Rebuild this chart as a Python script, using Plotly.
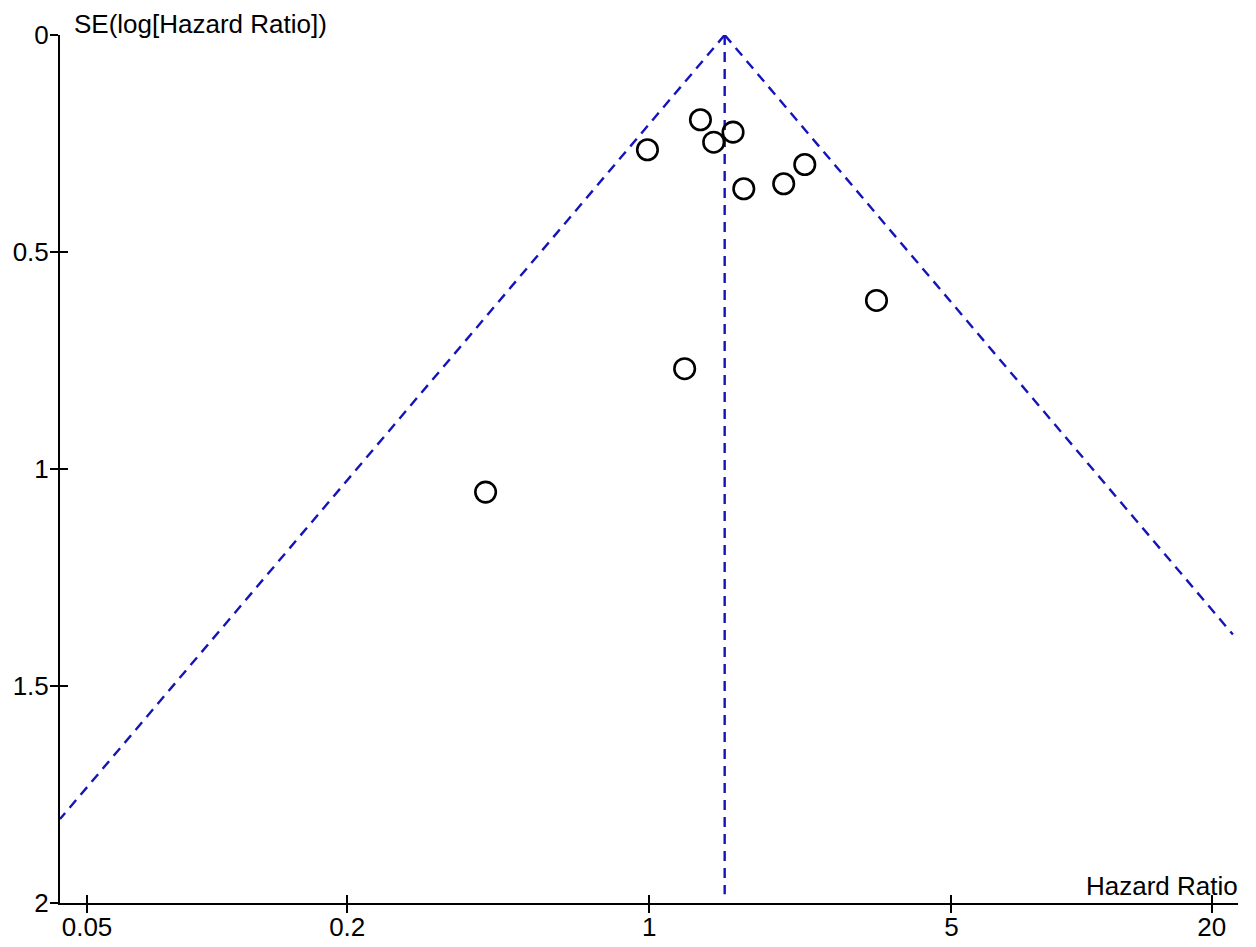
import numpy as np
import plotly.graph_objects as go

# Study estimates
hazard_ratio = [0.990, 1.313, 1.409, 1.562, 1.654, 2.046, 2.289, 3.354, 1.207, 0.418]
se_log_hr = [0.2645, 0.1953, 0.2470, 0.2239, 0.3543, 0.3428, 0.2983, 0.6116, 0.7689, 1.0532]

pooled_hr = 1.494
se_max = 2.0
x_limits = [0.0433, 22.4]   # horizontal extent of the plot
x_tick_vals = [0.05, 0.2, 1, 5, 20]
x_tick_text = ["0.05", "0.2", "1", "5", "20"]
y_tick_vals = [0, 0.5, 1, 1.5, 2]
y_tick_text = ["0", "0.5", "1", "1.5", "2"]

BLUE = "#1414b8"
FONT = "Liberation Sans, Arial, sans-serif"
FS = 26

# funnel (95% pseudo-confidence limits)
ln_c = np.log(pooled_hr)
se_left = (ln_c - np.log(x_limits[0])) / 1.96
se_right = (np.log(x_limits[1]) - ln_c) / 1.96
left_x = [pooled_hr, x_limits[0]]
left_y = [0, se_left]
right_x = [pooled_hr, x_limits[1]]
right_y = [0, se_right]

fig = go.Figure()
dash = "10px,7px"
lw = 2.4
fig.add_trace(go.Scatter(x=left_x, y=left_y, mode="lines",
                         line=dict(color=BLUE, width=lw, dash=dash), hoverinfo="skip"))
fig.add_trace(go.Scatter(x=right_x, y=right_y, mode="lines",
                         line=dict(color=BLUE, width=lw, dash=dash), hoverinfo="skip"))
fig.add_trace(go.Scatter(x=[pooled_hr, pooled_hr], y=[0, 1.98], mode="lines",
                         line=dict(color=BLUE, width=lw, dash=dash), hoverinfo="skip"))
fig.add_trace(go.Scatter(x=hazard_ratio, y=se_log_hr, mode="markers",
                         marker=dict(symbol="circle-open", size=20.5, color="black",
                                     line=dict(width=2.6))))
# invisible trace to anchor inside-tick overlay axes
fig.add_trace(go.Scatter(x=[pooled_hr], y=[0], mode="markers", xaxis="x2", yaxis="y2",
                         marker=dict(opacity=0), hoverinfo="skip"))

xr = [np.log10(x_limits[0]), 1.362]
yr = [se_max, 0]
common_tick = dict(ticklen=8, tickwidth=2, tickcolor="black")
# page body has an 8px margin: figure is shrunk and margins offset to compensate
fig.update_layout(
    template="none",
    width=1248, height=939,
    margin=dict(l=52, r=18, t=27, b=44, autoexpand=False),
    plot_bgcolor="white", paper_bgcolor="white",
    showlegend=False,
    font=dict(family=FONT, size=FS, color="black"),
    xaxis=dict(type="log", range=xr, tickvals=x_tick_vals, ticktext=x_tick_text,
               showgrid=False, zeroline=False, showline=True, linecolor="black",
               linewidth=2, ticks="outside", automargin=False, ticklabelstandoff=-8,
               **common_tick,
               tickfont=dict(family=FONT, size=FS, color="black")),
    yaxis=dict(range=yr, tickvals=y_tick_vals, ticktext=y_tick_text,
               showgrid=False, zeroline=False, showline=True, linecolor="black",
               linewidth=2, ticks="outside", automargin=False, ticklabelstandoff=-4,
               **common_tick,
               tickfont=dict(family=FONT, size=FS, color="black")),
    xaxis2=dict(type="log", range=xr, tickvals=x_tick_vals, overlaying="x",
                showgrid=False, zeroline=False, showline=False, ticks="inside",
                showticklabels=False, automargin=False, **common_tick),
    yaxis2=dict(range=yr, tickvals=y_tick_vals, overlaying="y",
                showgrid=False, zeroline=False, showline=False, ticks="inside",
                showticklabels=False, automargin=False, **common_tick),
    annotations=[
        dict(text="SE(log[Hazard Ratio])", xref="paper", yref="paper", x=0, y=1,
             xanchor="left", yanchor="bottom", xshift=12, yshift=-6, showarrow=False,
             font=dict(family=FONT, size=FS, color="black")),
        dict(text="Hazard Ratio", xref="paper", yref="paper", x=1, y=0,
             xanchor="right", yanchor="bottom", xshift=2, yshift=0, showarrow=False,
             font=dict(family=FONT, size=FS, color="black")),
    ],
)
fig.write_html("out.html")
